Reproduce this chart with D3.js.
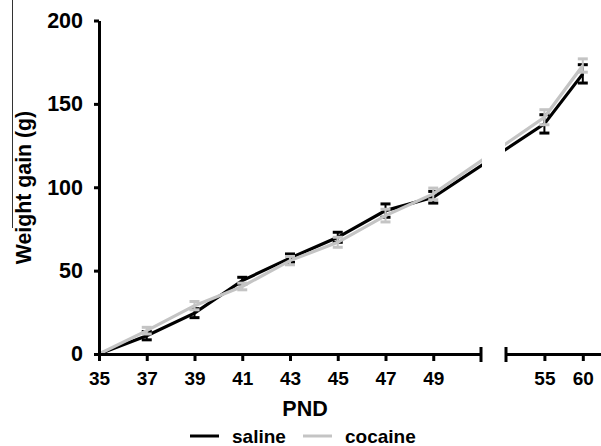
<!DOCTYPE html>
<html>
<head>
<meta charset="utf-8">
<script src="https://cdn.jsdelivr.net/npm/d3@7"></script>
<style>
  body { margin: 0; background: #fff; }
  svg text { font-family: "Liberation Sans", Arial, sans-serif; font-weight: bold; fill: #000; }
</style>
</head>
<body>
<div id="chart"></div>
<script>
// data
var days = [35, 37, 39, 41, 43, 45, 47, 49, 55, 60];
var salineMean = [0, 11, 24.5, 44, 57.5, 70, 86, 94, 138, 168];
var salineErr = [0, 2.5, 2.7, 2, 2.5, 3, 4, 3.5, 5.5, 5.5];
var cocaineMean = [0, 14, 29, 40.5, 56, 67, 83, 96, 142, 173];
var cocaineErr = [0, 2, 2.5, 2, 2.5, 3, 3.8, 3.5, 4.5, 4];
var xTicks1 = [35, 37, 39, 41, 43, 45, 47, 49];
var xTicks2 = [55, 60];
var yTicks = [0, 50, 100, 150, 200];

var W = 601, H = 446;
var svg = d3.select("#chart").append("svg")
  .attr("width", W)
  .attr("height", H);

// broken x axis: two pieces
var x1 = d3.scaleLinear().domain([35, 51]).range([99, 481]);
var x2 = d3.scaleLinear().domain([50, 62.5]).range([506, 602]);
function x(d) { return d <= 51 ? x1(d) : x2(d); }

var y = d3.scaleLinear().domain([0, 200]).range([354, 20.5]);

// thin page edge line at left
svg.append("line")
  .attr("x1", 12.5).attr("x2", 12.5)
  .attr("y1", 0).attr("y2", 228)
  .attr("stroke", "#333").attr("stroke-width", 1);

// clip regions, the gap stays empty
var defs = svg.append("defs");
defs.append("clipPath").attr("id", "clipA")
  .append("rect").attr("x", 90).attr("y", 0).attr("width", 392).attr("height", 360);
defs.append("clipPath").attr("id", "clipB")
  .append("rect").attr("x", 505).attr("y", 0).attr("width", 100).attr("height", 360);

var series = [
  { name: "saline", mean: salineMean, err: salineErr, color: "#000" },
  { name: "cocaine", mean: cocaineMean, err: cocaineErr, color: "#c4c4c4" }
];

var line = d3.line()
  .x(function (d) { return x(d[0]); })
  .y(function (d) { return y(d[1]); });

series.forEach(function (s) {
  var pts = days.map(function (d, i) { return [d, s.mean[i], s.err[i]]; });

  ["clipA", "clipB"].forEach(function (c) {
    svg.append("path")
      .datum(pts)
      .attr("clip-path", "url(#" + c + ")")
      .attr("fill", "none")
      .attr("stroke", s.color)
      .attr("stroke-width", 3.2)
      .attr("d", line);
  });

  var eb = svg.append("g").selectAll("g")
    .data(pts.filter(function (d) { return d[2] > 0; }))
    .enter().append("g");

  eb.append("line")
    .attr("x1", function (d) { return x(d[0]); })
    .attr("x2", function (d) { return x(d[0]); })
    .attr("y1", function (d) { return y(d[1] - d[2]); })
    .attr("y2", function (d) { return y(d[1] + d[2]); })
    .attr("stroke", s.color)
    .attr("stroke-width", 2);

  [-1, 1].forEach(function (sign) {
    eb.append("line")
      .attr("x1", function (d) { return x(d[0]) - 5; })
      .attr("x2", function (d) { return x(d[0]) + 5; })
      .attr("y1", function (d) { return y(d[1] + sign * d[2]); })
      .attr("y2", function (d) { return y(d[1] + sign * d[2]); })
      .attr("stroke", s.color)
      .attr("stroke-width", 3);
  });
});

// y axis
var yAxis = svg.append("g")
  .attr("transform", "translate(99,0)")
  .call(d3.axisLeft(y).tickValues(yTicks).tickSize(5).tickSizeOuter(0).tickPadding(11));
yAxis.select(".domain").attr("stroke-width", 3);
yAxis.selectAll(".tick line").attr("stroke-width", 3);
yAxis.selectAll("text").style("font-size", "21.5px");

// x axis, two pieces
function xAxisPart(scale, ticks) {
  var g = svg.append("g")
    .attr("transform", "translate(0,354)")
    .call(d3.axisBottom(scale).tickValues(ticks).tickSize(7).tickSizeOuter(0).tickPadding(11));
  g.select(".domain").attr("stroke-width", 3);
  g.selectAll(".tick line").attr("stroke-width", 3);
  g.selectAll("text").style("font-size", "19px");
  return g;
}
xAxisPart(x1, xTicks1);
xAxisPart(x2, xTicks2);

// break marks
[481, 506].forEach(function (bx) {
  svg.append("line")
    .attr("x1", bx).attr("x2", bx)
    .attr("y1", 347).attr("y2", 362)
    .attr("stroke", "#000").attr("stroke-width", 3);
});

// axis titles
svg.append("text")
  .attr("x", 305).attr("y", 416)
  .attr("text-anchor", "middle")
  .style("font-size", "21.5px")
  .text("PND");

svg.append("text")
  .attr("transform", "translate(31,187.5) rotate(-90)")
  .attr("text-anchor", "middle")
  .style("font-size", "21.3px")
  .text("Weight gain (g)");

// legend
var legend = svg.append("g");
var legX = [190, 303];
series.forEach(function (s, i) {
  legend.append("line")
    .attr("x1", legX[i]).attr("x2", legX[i] + 29)
    .attr("y1", 436).attr("y2", 436)
    .attr("stroke", s.color).attr("stroke-width", 3);
  legend.append("text")
    .attr("x", legX[i] + 42).attr("y", 443)
    .style("font-size", "19px")
    .text(s.name);
});
</script>
</body>
</html>
